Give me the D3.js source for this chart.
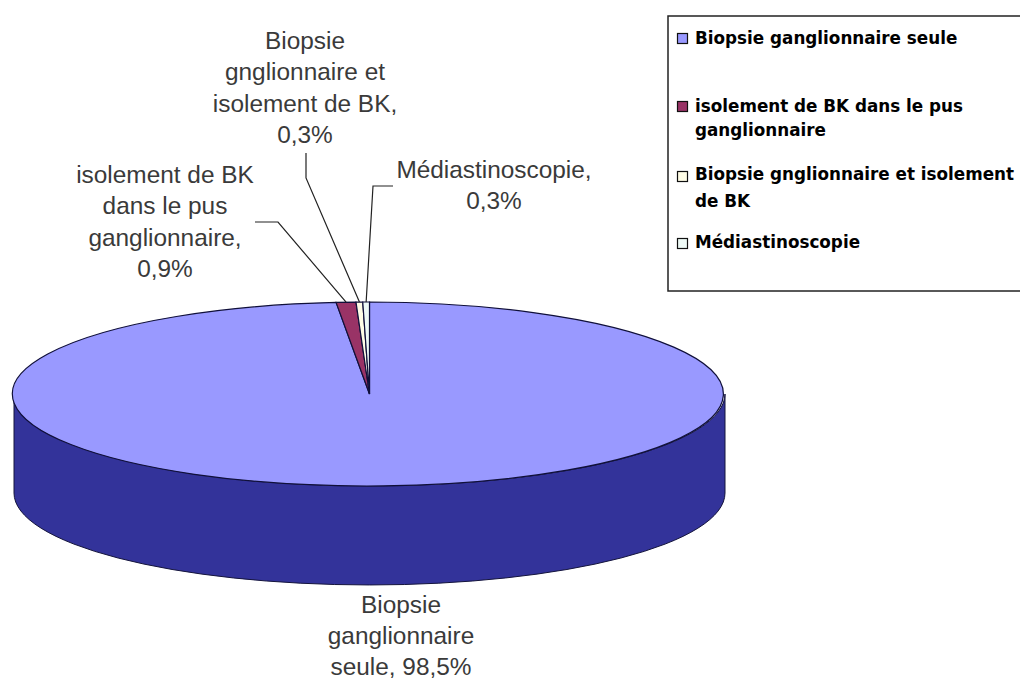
<!DOCTYPE html>
<html><head><meta charset="utf-8">
<style>html,body{margin:0;padding:0;background:#fff}svg{display:block}</style>
<script src="https://cdn.jsdelivr.net/npm/d3@7"></script></head>
<body><div id="c"></div>
<script>
const categories = ["Biopsie ganglionnaire seule","isolement de BK dans le pus ganglionnaire","Biopsie gnglionnaire et isolement de BK","Médiastinoscopie"];
const values = [98.5,0.9,0.3,0.3];
const sliceColors = ["#9999ff","#993366","#fffde6","#eefaf6"];
const labelLines = [
  ["Biopsie","ganglionnaire","seule, 98,5%"],
  ["isolement de BK","dans le pus","ganglionnaire,","0,9%"],
  ["Biopsie","gnglionnaire et","isolement de BK,","0,3%"],
  ["Médiastinoscopie,","0,3%"]];
const legendLines = [
  ["Biopsie ganglionnaire seule"],
  ["isolement de BK dans le pus","ganglionnaire"],
  ["Biopsie gnglionnaire et isolement","de BK"],
  ["Médiastinoscopie"]];

const W=1020,H=679,cx=369.5,cy=394,rx=355.5,ry=92,depth=99;
const svg=d3.select("#c").append("svg").attr("width",W).attr("height",H);
const pie=d3.pie().sort(null).value(d=>d)(values);
const px=a=>cx+rx*Math.sin(a), py=a=>cy-ry*Math.cos(a);

// side wall
const sideStr=`M${cx-rx},${cy} L${cx-rx},${cy+depth} A${rx},${ry} 0 0 0 ${cx+rx},${cy+depth} L${cx+rx},${cy} A${rx},${ry} 0 0 1 ${cx-rx},${cy} Z`;
svg.append("path").attr("d",sideStr).attr("fill","#33339a").attr("stroke","#14143c").attr("stroke-width",1);

// top face
const arc=d3.arc().innerRadius(0).outerRadius(1);
svg.append("g").attr("transform",`translate(${cx},${cy}) scale(${rx},${ry})`)
 .selectAll("path").data(pie).join("path")
 .attr("d",arc).attr("fill",(d,i)=>sliceColors[i])
 .attr("stroke","#10103a").attr("stroke-width",1.2).attr("vector-effect","non-scaling-stroke");

// data labels
const labelPos=[[401,613],[165,183],[305,49],[494,178]];
const labelLH=[31,31.3,31.3,31];
labelLines.forEach((ls,i)=>{
  const t=svg.append("text").attr("font-family","'Liberation Sans',Arial,sans-serif").attr("font-size",24.4).attr("fill","#3a3a3a").attr("text-anchor","middle");
  ls.forEach((s,j)=>t.append("tspan").attr("x",labelPos[i][0]).attr("y",labelPos[i][1]+j*labelLH[i]).text(s));
});

// leader lines, anchored on slice mid angles
const lead=[null,[[278,222],[255,222]],[[306,178],[306,153]],[[373,186],[393,186]]];
const line=d3.line();
pie.forEach((d,i)=>{
  if(!lead[i])return;
  const m=(d.startAngle+d.endAngle)/2;
  svg.append("path").attr("d",line([[px(m),py(m)],...lead[i]])).attr("fill","none").attr("stroke","#222").attr("stroke-width",1.2);
});

// legend
svg.append("rect").attr("x",668).attr("y",16).attr("width",362).attr("height",275).attr("fill","#fff").attr("stroke","#222").attr("stroke-width",1.5);
const swatchY=[33,101,171,238];
const legBase=[44,112,180,248];
const legLH=[25,24,27,25];
legendLines.forEach((ls,i)=>{
  svg.append("rect").attr("x",677.5).attr("y",swatchY[i]+.5).attr("width",10).attr("height",10).attr("fill",sliceColors[i]).attr("stroke","#111").attr("stroke-width",1.2);
  const t=svg.append("text").attr("font-family","'DejaVu Sans',sans-serif").attr("font-weight","bold").attr("font-size",16.8).attr("fill","#000");
  ls.forEach((s,j)=>t.append("tspan").attr("x",695).attr("y",legBase[i]+j*legLH[i]).text(s));
});
</script></body></html>
